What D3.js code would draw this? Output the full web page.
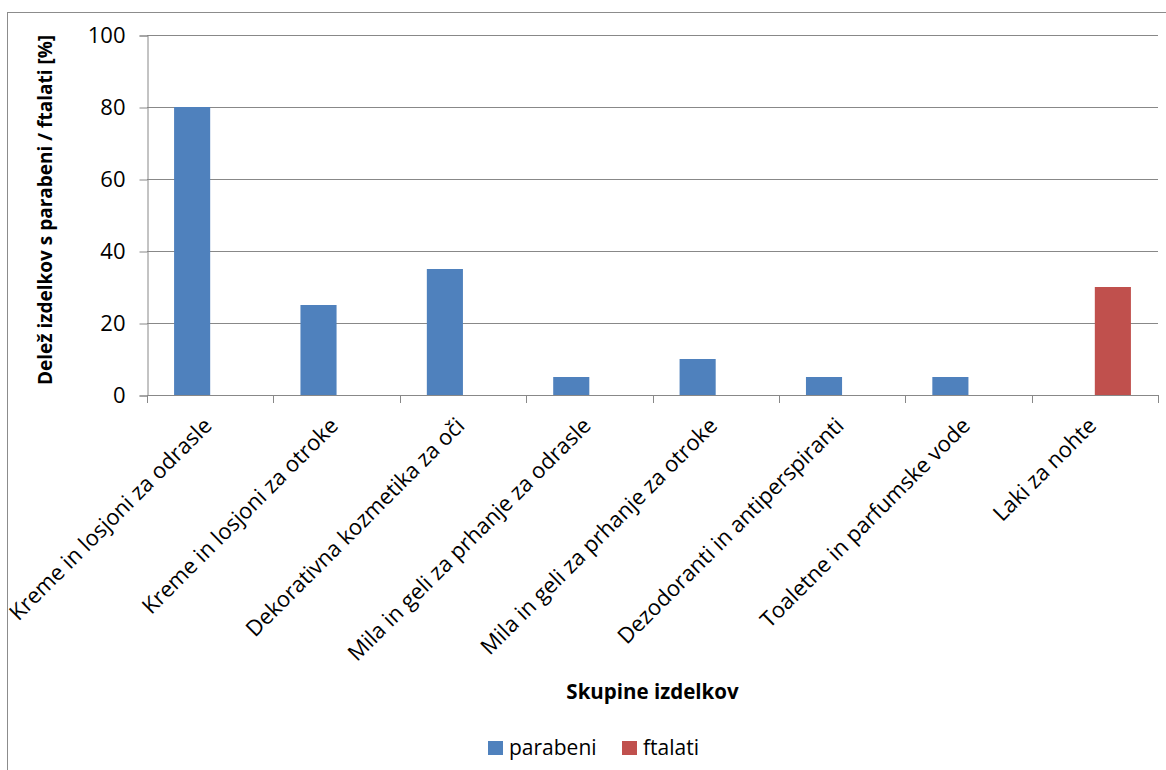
<!DOCTYPE html>
<html><head><meta charset="utf-8">
<script src="https://cdn.jsdelivr.net/npm/d3@7"></script>
<style>
html,body{margin:0;padding:0;background:#fff;}
svg text{font-family:"Open Sans",sans-serif;fill:#000;}
</style></head>
<body>
<svg id="c" width="1166" height="770"></svg>
<script>
const categories = [
  "Kreme in losjoni za odrasle",
  "Kreme in losjoni za otroke",
  "Dekorativna kozmetika za oči",
  "Mila in geli za prhanje za odrasle",
  "Mila in geli za prhanje za otroke",
  "Dezodoranti in antiperspiranti",
  "Toaletne in parfumske vode",
  "Laki za nohte"
];
const seriesNames = ["parabeni", "ftalati"];
const parabeni = [80, 25, 35, 5, 10, 5, 5, 0];
const ftalati  = [0, 0, 0, 0, 0, 0, 0, 30];
const yTicks = [0, 20, 40, 60, 80, 100];
const colors = ["#4F81BD", "#C0504D"];

const svg = d3.select("#c");
const L = 147, R = 1158, T = 35, B = 395;
const grid = "#888888";

// outer frame
svg.append("rect").attr("x", 7.5).attr("y", 12.5).attr("width", 1170).attr("height", 780)
  .attr("fill", "none").attr("stroke", "#8c8c8c").attr("stroke-width", 1);

const x = d3.scaleBand().domain(categories).range([L, R]).paddingInner(0).paddingOuter(0);
const bw = x.bandwidth() / 3.5;
const xs = d3.scaleBand().domain(seriesNames).range([0.75 * bw, 2.75 * bw]).padding(0);
const y = d3.scaleLinear().domain([0, 100]).range([B, T]);

// gridlines
svg.append("g").selectAll("line").data(yTicks.filter(d => d > 0)).join("line")
  .attr("x1", L).attr("x2", R)
  .attr("y1", d => Math.round(y(d)) + 0.5).attr("y2", d => Math.round(y(d)) + 0.5)
  .attr("stroke", grid).attr("stroke-width", 1);

// y axis
const yAxis = d3.axisLeft(y).tickValues(yTicks).tickSize(8).tickPadding(14).tickFormat(d3.format("d"));
const gy = svg.append("g").attr("transform", `translate(${L + 0.5},0.5)`).call(yAxis);
gy.select(".domain").attr("stroke", grid);
gy.selectAll(".tick line").attr("stroke", grid);
gy.selectAll(".tick text").attr("font-size", 22).attr("font-family", "Open Sans").attr("fill", "#000");

// bars
const data = [];
categories.forEach((c, i) => {
  data.push({c, s: "parabeni", v: parabeni[i], col: colors[0]});
  data.push({c, s: "ftalati", v: ftalati[i], col: colors[1]});
});
svg.append("g").selectAll("rect").data(data.filter(d => d.v > 0)).join("rect")
  .attr("x", d => x(d.c) + xs(d.s))
  .attr("y", d => y(d.v))
  .attr("width", xs.bandwidth())
  .attr("height", d => y(0) - y(d.v))
  .attr("fill", d => d.col);

// x axis
const xAxis = d3.axisBottom(x).tickSize(0).tickFormat("");
const gx = svg.append("g").attr("transform", `translate(0,${Math.round(B) + 0.5})`).call(xAxis);
gx.select(".domain").attr("stroke", grid).attr("d", `M${L},0H${R}`);
// boundary ticks
const bounds = categories.map(c => x(c)).concat([R]);
svg.append("g").selectAll("line").data(bounds).join("line")
  .attr("x1", d => Math.round(d) + 0.5).attr("x2", d => Math.round(d) + 0.5)
  .attr("y1", B).attr("y2", B + 8).attr("stroke", grid);

// x labels
svg.append("g").selectAll("text").data(categories).join("text")
  .attr("transform", c => `translate(${x(c) + x.bandwidth() / 2 + 3},${B + 32}) rotate(-45)`)
  .attr("text-anchor", "end")
  .attr("font-size", 22)
  .text(c => c);

// axis titles
svg.append("text").attr("x", (L + R) / 2).attr("y", 699)
  .attr("text-anchor", "middle").attr("font-size", 20.5).attr("font-weight", "bold")
  .text("Skupine izdelkov");
svg.append("text").attr("transform", `translate(52,${(T + B) / 2 - 5}) rotate(-90)`)
  .attr("text-anchor", "middle").attr("font-size", 19).attr("font-weight", "bold")
  .text("Delež izdelkov s parabeni / ftalati [%]");

// legend
const lg = svg.append("g");
const legX = [488, 622];
seriesNames.forEach((s, i) => {
  lg.append("rect").attr("x", legX[i]).attr("y", 741).attr("width", 15).attr("height", 14).attr("fill", colors[i]);
  lg.append("text").attr("x", legX[i] + 21).attr("y", 755).attr("font-size", 21).text(s);
});
</script>
</body></html>
